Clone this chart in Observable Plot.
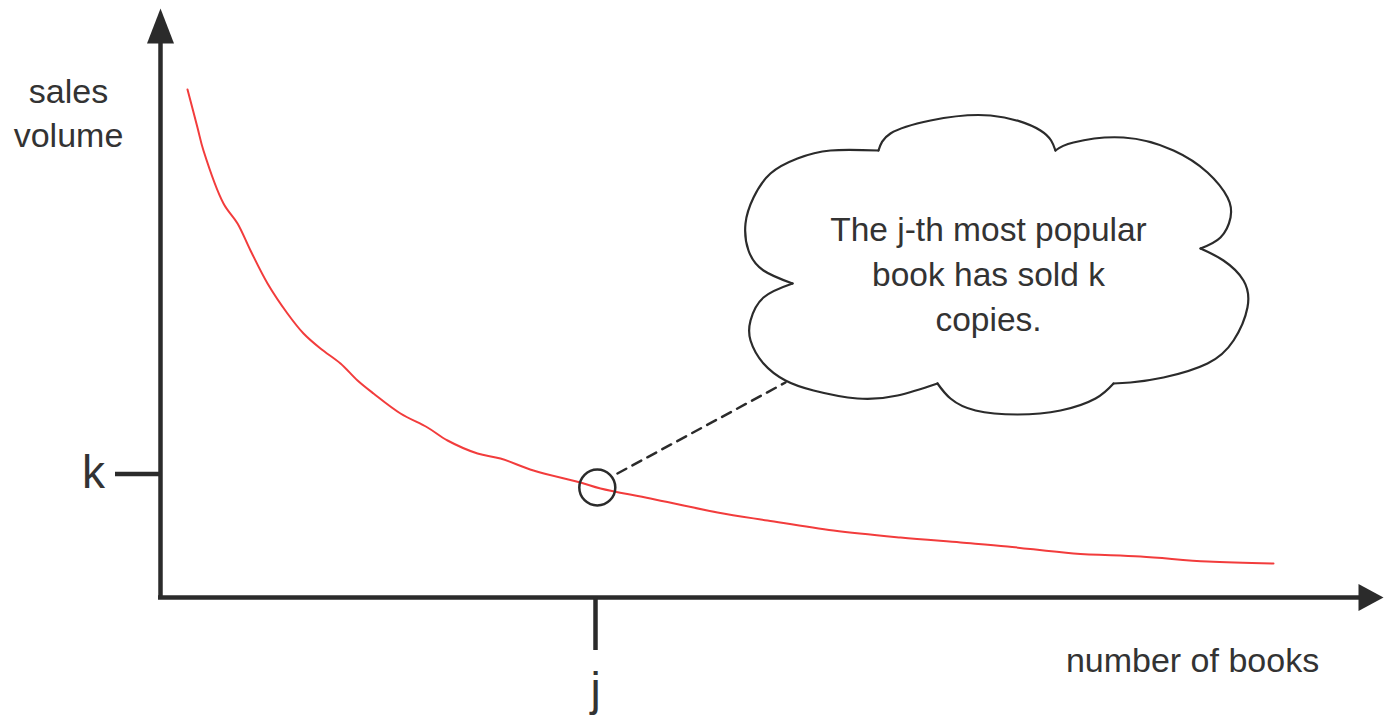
<!DOCTYPE html>
<html><head><meta charset="utf-8">
<script src="https://cdn.jsdelivr.net/npm/d3@7"></script>
<script src="https://cdn.jsdelivr.net/npm/@observablehq/plot@0.6"></script>
<style>
body{margin:0;background:#fff;}
#chart svg{display:block;}
</style>
</head><body><div id="chart"></div>
<script>
// Sales curve (book rank vs sales volume)
const rank  = [2.25,3.08,3.58,5.25,6.42,7.5,8.92,10.58,11.92,13.33,15,16.42,17.75,20,22.25,23.92,26.42,28.33,31.08,35,36.67,40.83,46.42,50.58,56.08,61.67,66.67,70.58,76.08,81.67,87.25,92.75];
const sales = [101.6,94,89.4,78.8,74.8,69.4,62.8,56.8,52.8,49.8,46.8,43.4,40.8,36.8,34,31.4,28.8,27.8,25.4,23,21.8,19.8,17,15.4,13.4,12,11,10.2,8.8,8.2,7.2,6.8];

// Highlighted point and tick labels
const jValue = 36.25;
const kValue = 24.7;
const pointX = [36.4];
const pointY = [22];
const tickLabels = ["j", "k"];

// Axis labels and callout
const yLabel = "sales\nvolume";
const xLabel = "number of books";
const calloutText = "The j-th most popular\nbook has sold k\ncopies.";

// Callout connector (data units)
const connectorX = [38.08, 52.08];
const connectorY = [24.8, 43];

// Cloud outline, traced bump by bump (data units)
const cloudBump = [
  1,1,1,1,1,1,1,1,1,
  2,2,2,2,2,2,
  3,3,3,3,3,3,3,3,3,
  4,4,4,4,4,4,4,4,4,
  5,5,5,5,5,5,5,
  6,6,6,6,6,6,6,6,6,6
];
const cloudX = [
  52.67,50.25,49,48.75,49.42,50.83,53.08,55.83,59.83,
  59.83,60.83,64.17,69.17,73.33,74.58,
  74.58,76.08,80.25,84.42,87.25,88.92,89.17,88.33,86.67,
  86.67,88.58,90.25,90.58,89.42,87.25,83.58,80.83,79.42,
  79.42,77.92,75,71.42,67.92,65.83,64.75,
  64.75,61.42,58.08,54.42,52.08,50.25,49.17,49.17,50.25,52.67
];
const cloudY = [
  62.8,65.4,69.4,74.8,80,84.8,87.8,89.4,89.4,
  89.4,92.8,95.4,96.4,93.4,89.4,
  89.4,91,92,89.4,85,80,76,72,69.8,
  69.8,67.4,63.4,58,51.4,46.8,44,43,42.8,
  42.8,39.8,37.4,36.6,37.4,39.8,42.8,
  42.8,40.4,39.8,41.4,43.4,46.8,51.4,55.4,60,62.8
];

const xDomain = [0, 100], xRange = [160, 1360];
const yDomain = [0, 100], yRange = [597, 97];
const xs = d3.scaleLinear(xDomain, xRange);
const ys = d3.scaleLinear(yDomain, yRange);

const curve = rank.map((r, i) => ({rank: r, sales: sales[i]}));
const cloud = cloudX.map((x, i) => ({x, y: cloudY[i], bump: cloudBump[i]}));
const arrowHead = (len, half) => ({draw(ctx) { ctx.moveTo(0, 0); ctx.lineTo(-half, len); ctx.lineTo(half, len); ctx.closePath(); }});

const ink = "#2b2b2b";
const textInk = "#333";
const font = "'Liberation Sans', Arial, Helvetica, sans-serif";
const yTip = ys.invert(8), yAxisEnd = ys.invert(40);
const xTip = xs.invert(1383), xAxisEnd = xs.invert(1360);

const chart = Plot.plot({
  width: 1384,
  height: 719,
  margin: 0,
  x: {domain: xDomain, range: xRange, axis: null},
  y: {domain: yDomain, range: yRange, axis: null},
  style: {background: "#fff", fontFamily: font, color: ink},
  marks: [
    // axes
    Plot.ruleX([0], {y1: ys.invert(599), y2: yAxisEnd, stroke: ink, strokeWidth: 4.5}),
    Plot.ruleY([0], {x1: xs.invert(158), x2: xAxisEnd, stroke: ink, strokeWidth: 4.5}),
    Plot.dot([{x: 0, y: yTip}], {x: "x", y: "y", symbol: arrowHead(35, 13.5), fill: ink, stroke: "none"}),
    Plot.dot([{x: xTip, y: 0}], {x: "x", y: "y", symbol: arrowHead(25, 13.5), rotate: 90, fill: ink, stroke: "none"}),
    // ticks
    Plot.ruleY([kValue], {x1: xs.invert(115), x2: 0, stroke: ink, strokeWidth: 4.5}),
    Plot.ruleX([jValue], {y1: 0, y2: ys.invert(650), stroke: ink, strokeWidth: 4.5}),
    Plot.text([tickLabels[1]], {x: xs.invert(93), y: ys.invert(473), text: d => d, fontSize: 46, fill: textInk, textAnchor: "middle"}),
    Plot.text([tickLabels[0]], {x: jValue, y: ys.invert(690), text: d => d, fontSize: 46, fill: textInk, textAnchor: "middle"}),
    // axis labels
    Plot.text([yLabel], {x: xs.invert(68), y: ys.invert(110), text: d => d, fontSize: 34, lineHeight: 1.3, fill: textInk, textAnchor: "middle"}),
    Plot.text([xLabel], {x: xs.invert(1192), y: ys.invert(660.5), text: d => d, fontSize: 34, fill: textInk, textAnchor: "middle"}),
    // curve
    Plot.line(curve, {x: "rank", y: "sales", stroke: "#f23c3c", strokeWidth: 2, curve: "catmull-rom"}),
    // highlighted point
    Plot.dot(pointX.map((x, i) => ({x, y: pointY[i]})), {x: "x", y: "y", r: 18, stroke: ink, strokeWidth: 2.5, fill: "none"}),
    // connector
    Plot.line(connectorX.map((x, i) => ({x, y: connectorY[i]})), {x: "x", y: "y", stroke: ink, strokeWidth: 2.5, strokeDasharray: "10,7"}),
    // cloud
    Plot.line(cloud, {x: "x", y: "y", z: "bump", stroke: ink, strokeWidth: 2.2, curve: "natural"}),
    Plot.text([calloutText], {x: xs.invert(988), y: ys.invert(271), text: d => d, fontSize: 33.5, lineHeight: 1.343, fill: textInk, textAnchor: "middle"})
  ]
});
document.getElementById("chart").appendChild(chart);
</script>
</body></html>
